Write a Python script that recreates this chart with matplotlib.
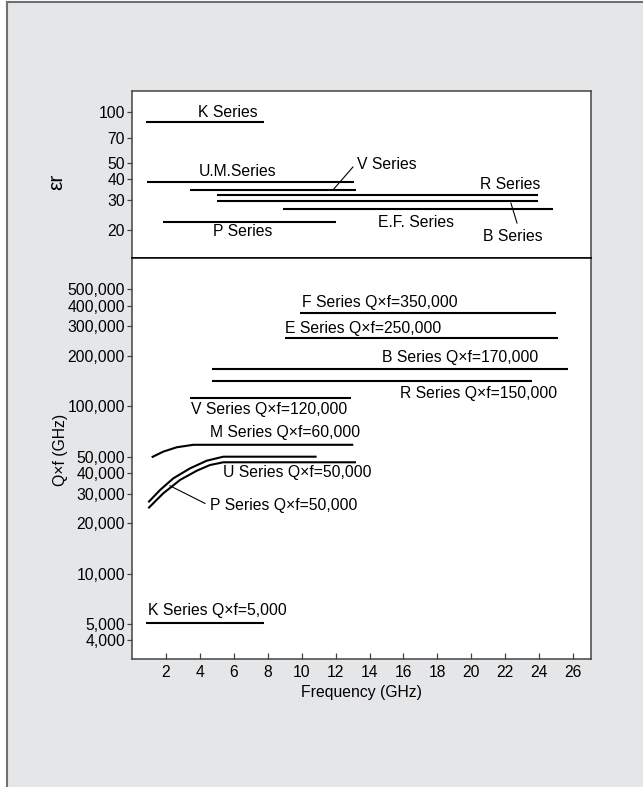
#!/usr/bin/env python3

import matplotlib
matplotlib.use('Agg')
import matplotlib.pyplot as plt
from matplotlib.ticker import FixedLocator, FuncFormatter, NullLocator
from matplotlib.patches import Rectangle
from matplotlib.lines import Line2D

plt.rcParams['font.family'] = ['Liberation Sans', 'DejaVu Sans']

# dielectric constant ranges (top panel)
er_names = ['K Series', 'U.M.Series', 'V Series', 'R Series', 'B Series', 'E.F. Series', 'P Series']
er_start = [0.8, 0.9, 3.4, 5.0, 5.0, 8.9, 1.8]
er_end = [7.8, 13.1, 13.2, 23.9, 23.9, 24.8, 12.0]
er_value = [87, 38.7, 34.6, 32.1, 29.9, 26.5, 22.2]
er_ticks = [20, 30, 40, 50, 70, 100]

# Qxf ranges (bottom panel), straight lines
qf_names = ['F', 'E', 'B', 'R', 'V', 'K']
qf_nominal = [350000, 250000, 170000, 150000, 120000, 5000]
qf_start = [9.9, 9.0, 4.7, 4.7, 3.4, 0.8]
qf_end = [25.0, 25.1, 25.7, 23.6, 12.9, 7.8]
qf_value = [362000, 255000, 167000, 141000, 112000, 5100]

# curved low frequency ends
m_freq = [1.16, 1.84, 2.63, 3.61, 13.04]
m_qf = [49600, 53600, 56900, 58900, 58900]
p_freq = [0.96, 1.65, 2.43, 3.42, 4.40, 5.38, 10.88]
p_qf = [26700, 31600, 37100, 42600, 47300, 50000, 50000]
u_freq = [0.96, 1.84, 2.83, 3.81, 4.60, 5.38, 13.2]
u_qf = [24600, 30200, 36300, 41200, 44600, 46300, 46300]

qf_ticks = [4000, 5000, 10000, 20000, 30000, 40000, 50000,
	100000, 200000, 300000, 400000, 500000]
freq_ticks = list(range(2, 27, 2))

FS = 11.3
LW = 1.5
SPINE = '#444444'


def style_axes(ax):
	for s in ax.spines.values():
		s.set_color(SPINE)
		s.set_linewidth(1.1)
	ax.set_xlim(0, 27.05)
	ax.set_yscale('log')
	ax.yaxis.set_minor_locator(NullLocator())
	ax.tick_params(axis='y', which='major', direction='out', length=3.5, width=0.9,
		pad=1.5, labelsize=FS, color=SPINE)


fig = plt.figure(figsize=(6.43, 7.87), dpi=100, facecolor='white')

# grey frame
fig.add_artist(Rectangle((7 / 643, 0), 1, 1 - 2 / 787, transform=fig.transFigure,
	facecolor='#e5e6e8', edgecolor='none', zorder=-10))
fig.add_artist(Line2D([7 / 643, 7 / 643], [0, 1 - 2 / 787], transform=fig.transFigure,
	color='#707070', lw=1.5))
fig.add_artist(Line2D([7 / 643, 1], [1 - 2 / 787, 1 - 2 / 787], transform=fig.transFigure,
	color='#707070', lw=1.5))

ax1 = fig.add_axes([0.2053, 0.6722, 0.7138, 0.2122])
ax2 = fig.add_axes([0.2053, 0.1626, 0.7138, 0.5095])

# ---- top panel
style_axes(ax1)
ax1.set_ylim(13.64, 133.8)
ax1.yaxis.set_major_locator(FixedLocator(er_ticks))
ax1.yaxis.set_major_formatter(FuncFormatter(lambda v, p: '%d' % v))
ax1.set_xticks([])
ax1.spines['bottom'].set_color('black')

for i in range(len(er_names)):
	ax1.plot([er_start[i], er_end[i]], [er_value[i], er_value[i]], color='black', lw=LW,
		solid_capstyle='butt')

ax1.text(5.66, 100, 'K Series', ha='center', va='center', fontsize=FS)
ax1.text(6.25, 44.2, 'U.M.Series', ha='center', va='center', fontsize=FS)
ax1.text(6.54, 19.5, 'P Series', ha='center', va='center', fontsize=FS)
ax1.text(13.26, 48.7, 'V Series', ha='left', va='center', fontsize=FS)
ax1.text(22.27, 37.0, 'R Series', ha='center', va='center', fontsize=FS)
ax1.text(16.74, 22.3, 'E.F. Series', ha='center', va='center', fontsize=FS)
ax1.text(22.45, 18.2, 'B Series', ha='center', va='center', fontsize=FS)
ax1.plot([11.9, 13.02], [35.1, 47.3], color='black', lw=0.8)
ax1.plot([22.33, 22.69], [28.9, 22.0], color='black', lw=0.8)

fig.text(57 / 643, 1 - 182 / 787, 'εr', rotation=90, ha='center', va='center', fontsize=15)

# ---- bottom panel
style_axes(ax2)
ax2.set_ylim(3090, 769000)
ax2.yaxis.set_major_locator(FixedLocator(qf_ticks))
ax2.yaxis.set_major_formatter(FuncFormatter(lambda v, p: '{:,}'.format(int(v))))
ax2.set_xticks(freq_ticks)
ax2.tick_params(axis='x', direction='in', length=4, width=0.9, pad=4, labelsize=FS,
	color=SPINE)
ax2.spines['top'].set_color('black')

for i in range(len(qf_names)):
	ax2.plot([qf_start[i], qf_end[i]], [qf_value[i], qf_value[i]], color='black', lw=LW,
		solid_capstyle='butt')
for fx, fy in [(m_freq, m_qf), (p_freq, p_qf), (u_freq, u_qf)]:
	ax2.plot(fx, fy, color='black', lw=LW, solid_capstyle='butt')

ax2.text(10.0, 416000, 'F Series Q×f=350,000', ha='left', va='center', fontsize=FS)
ax2.text(9.02, 290000, 'E Series Q×f=250,000', ha='left', va='center', fontsize=FS)
ax2.text(23.93, 195000, 'B Series Q×f=170,000', ha='right', va='center', fontsize=FS)
ax2.text(15.79, 120000, 'R Series Q×f=150,000', ha='left', va='center', fontsize=FS)
ax2.text(3.46, 96000, 'V Series Q×f=120,000', ha='left', va='center', fontsize=FS)
ax2.text(4.60, 69500, 'M Series Q×f=60,000', ha='left', va='center', fontsize=FS)
ax2.text(5.34, 40100, 'U Series Q×f=50,000', ha='left', va='center', fontsize=FS)
ax2.text(4.60, 25500, 'P Series Q×f=50,000', ha='left', va='center', fontsize=FS)
ax2.text(0.94, 6010, 'K Series Q×f=5,000', ha='left', va='center', fontsize=FS)
ax2.plot([2.24, 4.30], [33500, 26300], color='black', lw=0.8)

ax2.set_xlabel('Frequency (GHz)', fontsize=FS, labelpad=4)
fig.text(60 / 643, 1 - 450 / 787, 'Q×f (GHz)', rotation=90, ha='center', va='center',
	fontsize=FS)

fig.savefig('out.png', dpi=100, facecolor=fig.get_facecolor())
